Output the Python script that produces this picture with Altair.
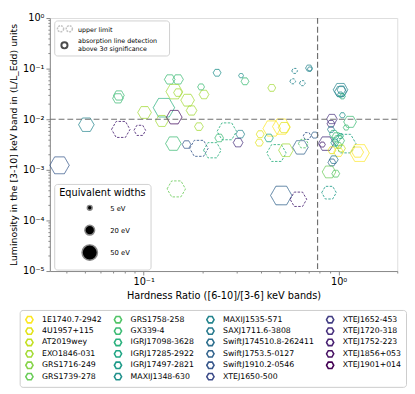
import altair as alt
import pandas as pd

SOURCES = ["1E1740.7-2942", "4U1957+115", "AT2019wey", "EXO1846-031", "GRS1716-249", "GRS1739-278",
           "GRS1758-258", "GX339-4", "IGRJ17098-3628", "IGRJ17285-2922", "IGRJ17497-2821", "MAXIJ1348-630",
           "MAXIJ1535-571", "SAXJ1711.6-3808", "SwiftJ174510.8-262411", "SwiftJ1753.5-0127", "SwiftJ1910.2-0546",
           "XTEJ1650-500", "XTEJ1652-453", "XTEJ1720-318", "XTEJ1752-223", "XTEJ1856+053", "XTEJ1901+014"]

# hardness ratio, luminosity (L/LEdd), equivalent width (eV), source index, upper limit flag
HR = [0.0508, 0.0746, 0.0738, 0.0763, 0.0955, 0.101, 0.127, 0.124, 0.136, 0.150,
      0.1435, 0.150, 0.168, 0.176, 0.1435, 0.197, 0.204, 0.192, 0.238, 0.316,
      0.331, 0.454, 0.595, 0.705, 0.712, 0.582, 0.652, 1.023, 1.023, 1.034,
      1.023, 1.046, 0.924, 0.914, 1.046, 1.145, 1.094, 0.914, 0.454, 0.508,
      0.526, 0.396, 0.392, 0.439, 0.313, 0.305, 0.244, 0.267, 0.142, 0.166,
      0.192, 0.225, 0.480, 0.537, 0.637, 0.659, 0.689, 0.754, 0.863, 0.826,
      0.945, 0.978, 1.000, 0.956, 1.000, 1.023, 1.082, 0.924, 1.000, 1.034,
      1.282, 1.253, 0.945, 0.924, 0.893, 0.967, 0.893, 0.508, 0.622, 0.147,
      0.037]
LUM = [0.00779, 0.0295, 0.0259, 0.00629, 0.00603, 0.0136, 0.0169, 0.00925, 0.0612, 0.0612,
       0.0351, 0.0336, 0.0238, 0.0149, 0.0110, 0.0435, 0.0308, 0.00715, 0.0828, 0.0728,
       0.0562, 0.0416, 0.0902, 0.1026, 0.098, 0.0562, 0.0516, 0.0382, 0.0351, 0.0382,
       0.0308, 0.0283, 0.0101, 0.00813, 0.0120, 0.00887, 0.00685, 0.00629, 0.00656, 0.00715,
       0.00685, 0.00507, 0.00345, 0.00427, 0.00507, 0.00345, 0.00427, 0.00577, 0.0033, 0.00316,
       0.00266, 0.00244, 0.00215, 0.00244, 0.00278, 0.0033, 0.00466, 0.00486, 0.0033, 0.00316,
       0.00507, 0.00446, 0.00376, 0.00345, 0.00303, 0.00466, 0.0033, 0.00244, 0.00224, 0.00266,
       0.00215, 0.00224, 0.00159, 0.0014, 0.00091, 0.00084, 0.000354, 0.000311, 0.000262, 0.00042,
       0.00123]
EW = [51, 24, 24, 72, 29, 39, 97, 34, 24, 24,
      58, 16, 39, 24, 51, 10, 20, 16, 13, 5,
      13, 13, 7, 10, 5, 7, 7, 45, 29, 16,
      7, 7, 24, 13, 7, 34, 7, 10, 65, 65,
      29, 13, 13, 16, 16, 20, 16, 80, 51, 16,
      72, 65, 80, 45, 51, 20, 13, 10, 51, 7,
      16, 20, 29, 13, 10, 7, 97, 13, 20, 13,
      80, 29, 16, 13, 39, 13, 45, 97, 58, 72,
      80]
SRC = [12, 7, 7, 20, 20, 3, 8, 3, 7, 7,
       3, 3, 3, 3, 21, 7, 3, 3, 11, 11,
       7, 3, 12, 12, 12, 12, 12, 12, 12, 12,
       11, 8, 19, 19, 11, 7, 7, 12, 0, 0,
       1, 1, 1, 9, 12, 19, 7, 8, 7, 16,
       16, 8, 8, 3, 15, 6, 16, 15, 19, 20,
       8, 7, 7, 10, 6, 9, 9, 1, 0, 2,
       0, 0, 13, 15, 5, 6, 10, 15, 20, 5,
       16]
UL = [0, 0, 0, 1, 1, 0, 0, 0, 0, 0,
      0, 0, 0, 0, 0, 0, 0, 0, 0, 0,
      0, 0, 1, 0, 0, 1, 1, 0, 0, 0,
      0, 0, 0, 0, 0, 0, 0, 0, 0, 0,
      0, 0, 0, 0, 0, 0, 0, 1, 0, 0,
      1, 1, 1, 0, 0, 1, 1, 0, 0, 0,
      0, 0, 0, 0, 0, 0, 1, 0, 0, 0,
      0, 0, 0, 0, 0, 0, 1, 0, 1, 1,
      0]

EW_LEGEND = [5, 20, 50]
HR_SPLIT = [0.78]
LUM_SPLIT = [0.01]

# viridis anchors (reversed for the sources: yellow -> purple)
VIRIDIS = ["#440154", "#471365", "#482475", "#463480", "#414487", "#3b528b", "#355f8d",
           "#2f6c8e", "#2a788e", "#25848e", "#21918c", "#1e9c89", "#22a884", "#2fb47c",
           "#44bf70", "#5ec962", "#7ad151", "#9bd93c", "#bddf26", "#dfe318", "#fde725"]


def interp_color(t):
    pos = t * (len(VIRIDIS) - 1)
    i = min(int(pos), len(VIRIDIS) - 2)
    f = pos - i
    a = [int(VIRIDIS[i][k:k + 2], 16) for k in (1, 3, 5)]
    b = [int(VIRIDIS[i + 1][k:k + 2], 16) for k in (1, 3, 5)]
    c = [round(a[j] + (b[j] - a[j]) * f) for j in range(3)]
    return "#%02x%02x%02x" % tuple(c)


n = len(SOURCES)
COLORS = [interp_color(1 - i / (n - 1)) for i in range(n)]

df = pd.DataFrame({
    "hr": HR, "lum": LUM, "ew": EW,
    "source": [SOURCES[i] for i in SRC],
    "kind": ["upper limit" if u else "detection" for u in UL],
})

HEX = "M-1,0L-0.5,-0.866L0.5,-0.866L1,0L0.5,0.866L-0.5,0.866Z"
FONT = "DejaVu Sans"
SIZE_K = 5.0

majors_y = [1, 0.1, 0.01, 0.001, 0.0001, 0.00001]
minors_y = [m * 10.0 ** k for k in range(-5, 0) for m in range(2, 10)]
majors_x = [0.1, 1]
minors_x = [0.04, 0.05, 0.06, 0.07, 0.08, 0.09] + [m / 10 for m in range(2, 10)] + [2.0]

maj_list = "[1,0.1,0.01,0.001,0.0001,0.00001]"
lab_list = "['10⁰','10⁻¹','10⁻²','10⁻³','10⁻⁴','10⁻⁵']"
is_major = f"indexof({maj_list}, datum.value) >= 0"
label_expr = f"{is_major} ? {lab_list}[indexof({maj_list}, datum.value)] : ''"
tick_size = {"condition": {"test": is_major, "value": 4}, "value": 2}

x_enc = alt.X("hr:Q",
              scale=alt.Scale(type="log", domain=[0.033, 2.0], nice=False),
              axis=alt.Axis(title="Hardness Ratio ([6-10]/[3-6] keV bands)",
                            values=majors_x + minors_x, labelExpr=label_expr,
                            tickSize=tick_size, grid=False, labelFontSize=10,
                            titleFontSize=10, titleFontWeight="normal", titlePadding=4))
y_enc = alt.Y("lum:Q",
              scale=alt.Scale(type="log", domain=[1e-5, 1], nice=False),
              axis=alt.Axis(title="Luminosity in the [3-10] keV band in (L/L_Edd) units",
                            values=majors_y + minors_y, labelExpr=label_expr,
                            tickSize=tick_size, grid=False, labelFontSize=10,
                            titleFontSize=9.6, titleFontWeight="normal", titlePadding=4))

points = alt.Chart(df).mark_point(shape=HEX, filled=False, strokeWidth=1, opacity=0.85).encode(
    x=x_enc, y=y_enc,
    color=alt.Color("source:N",
                    scale=alt.Scale(domain=SOURCES, range=COLORS),
                    legend=alt.Legend(title=None, orient="none", legendX=-31, legendY=300,
                                      columns=4, symbolType=HEX, symbolSize=56,
                                      symbolStrokeWidth=1.6, symbolOpacity=1,
                                      clipHeight=10, labelFontSize=8, labelFont=FONT,
                                      labelLimit=200, labelOffset=8, rowPadding=1.7,
                                      columnPadding=11, padding=5, strokeColor="#cccccc",
                                      fillColor="white", cornerRadius=3)),
    size=alt.Size("ew:Q", scale=alt.Scale(type="linear", domain=[0, 100], range=[0, 100 * SIZE_K]),
                  legend=None),
    strokeDash=alt.StrokeDash("kind:N", scale=alt.Scale(domain=["detection", "upper limit"],
                                                        range=[[1, 0], [2.5, 1.5]]), legend=None),
)

hline = alt.Chart(pd.DataFrame({"lum": LUM_SPLIT})).mark_rule(
    color="#707070", strokeDash=[6, 3], strokeWidth=1.2).encode(y=y_enc)
vline = alt.Chart(pd.DataFrame({"hr": HR_SPLIT})).mark_rule(
    color="#707070", strokeDash=[6, 3], strokeWidth=1.2).encode(x=x_enc)

one = pd.DataFrame({"a": [0]})
layers = [points, hline, vline]

# top-left legend box
layers.append(alt.Chart(one).mark_rect(fill="white", stroke="#cccccc", cornerRadius=3, opacity=0.9).encode(
    x=alt.value(5), x2=alt.value(123), y=alt.value(3), y2=alt.value(39)))
for xx in (11, 20):
    layers.append(alt.Chart(one).mark_point(shape="circle", filled=False, stroke="#aaaaaa",
                                            strokeWidth=1.5, strokeDash=[2, 1], size=40).encode(
        x=alt.value(xx), y=alt.value(11)))
layers.append(alt.Chart(one).mark_point(shape="circle", filled=False, stroke="black",
                                        strokeWidth=2, size=40).encode(x=alt.value(15), y=alt.value(28)))
for txt, xx, yy in [("upper limit", 29, 12), ("absorption line detection", 29, 24),
                    (" above 3σ significance", 29, 32)]:
    layers.append(alt.Chart(one).mark_text(text=txt, align="left", baseline="middle",
                                           font=FONT, fontSize=6.5, color="black").encode(
        x=alt.value(xx), y=alt.value(yy)))

# equivalent width legend box
layers.append(alt.Chart(one).mark_rect(fill="white", stroke="#cccccc", cornerRadius=3, opacity=0.9).encode(
    x=alt.value(5), x2=alt.value(104), y=alt.value(171), y2=alt.value(259)))
layers.append(alt.Chart(one).mark_text(text="Equivalent widths", align="center", baseline="middle",
                                       font=FONT, fontSize=10, color="black").encode(
    x=alt.value(54), y=alt.value(180)))
for ew, yy in zip(EW_LEGEND, [195, 218, 241]):
    layers.append(alt.Chart(one).mark_point(shape="circle", filled=True, fill="black", stroke="#888888",
                                            strokeWidth=1.5, opacity=1).encode(
        x=alt.value(41), y=alt.value(yy), size=alt.value(SIZE_K * ew)))
    layers.append(alt.Chart(one).mark_text(text=f"{ew} eV", align="left", baseline="middle",
                                           font=FONT, fontSize=7, color="black").encode(
        x=alt.value(62), y=alt.value(yy + 1)))

chart = alt.layer(*layers).properties(width=357, height=260, padding=0).configure_view(
    stroke="#888888", strokeWidth=1.3
).configure_axis(
    labelFont=FONT, titleFont=FONT, domainColor="#888888", domainWidth=1.3,
    tickColor="#333333", tickWidth=0.8, labelColor="black", titleColor="black"
).configure(font=FONT)

chart.save("out.html", embed_options={"renderer": "svg", "actions": False})
